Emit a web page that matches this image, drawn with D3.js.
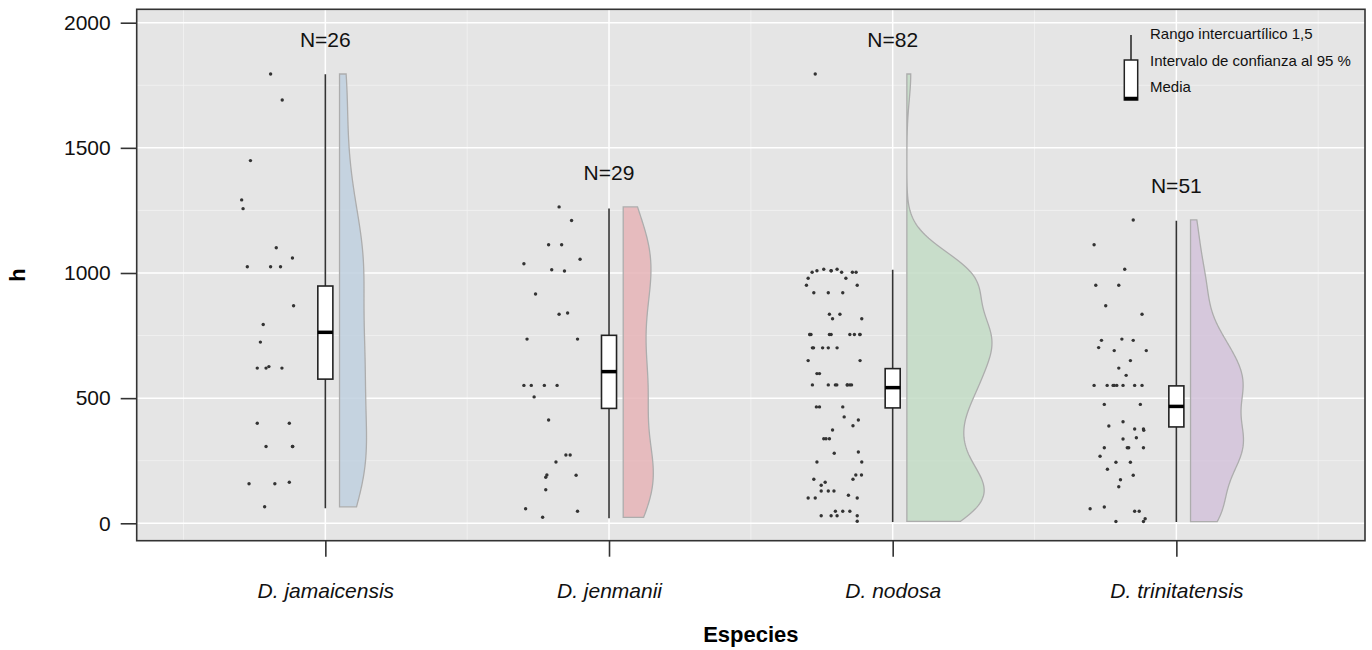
<!DOCTYPE html>
<html>
<head>
<meta charset="utf-8">
<script src="https://cdn.jsdelivr.net/npm/d3@7"></script>
<style>
  body { margin: 0; background: #fff; }
  text { font-family: Arial, "Liberation Sans", sans-serif; }
</style>
</head>
<body>
<script>
const W = 1372
const H = 650

// categories
const species = ['D. jamaicensis', 'D. jenmanii', 'D. nodosa', 'D. trinitatensis']
const nLabels = ['N=26', 'N=29', 'N=82', 'N=51']

const hJamaicensis = [1795, 1691, 1449, 1292, 1257, 1101, 1060, 1025, 1025, 1025, 869, 794, 724, 620, 620, 626, 620, 400, 400, 307, 307, 307, 158, 158, 164, 66]
const jitJamaicensis = [-0.193, -0.152, -0.264, -0.295, -0.290, -0.173, -0.116, -0.275, -0.193, -0.158, -0.112, -0.219, -0.229, -0.240, -0.209, -0.199, -0.153, -0.240, -0.127, -0.209, -0.116, -0.115, -0.269, -0.178, -0.127, -0.214]

const hJenmanii = [1264, 1210, 1113, 1113, 1055, 1037, 1013, 1008, 916, 835, 840, 736, 736, 551, 551, 551, 551, 505, 413, 273, 273, 245, 193, 184, 192, 134, 58, 48, 24]
const jitJenmanii = [-0.176, -0.132, -0.213, -0.167, -0.102, -0.300, -0.202, -0.157, -0.259, -0.176, -0.146, -0.289, -0.111, -0.300, -0.274, -0.228, -0.183, -0.264, -0.213, -0.152, -0.137, -0.187, -0.219, -0.223, -0.116, -0.223, -0.294, -0.111, -0.234]

const hNodosa = [1795, 1003, 1009, 1015, 1009, 1015, 1003, 1003, 1003, 979, 979, 951, 951, 921, 921, 921, 835, 835, 817, 817,
  754, 754, 754, 754, 754, 754, 754, 754, 701, 701, 701, 701, 701, 650, 650, 598, 598, 553, 553, 553, 553, 553, 553, 553,
  465, 465, 465, 425, 413, 390, 373, 338, 338, 338, 280, 285, 245, 245, 193, 193, 176, 176, 164, 152, 129, 129, 129,
  101, 101, 112, 101, 30, 30, 48, 48, 48, 30, 30, 8, 754, 553, 1009]
const jitNodosa = [-0.273, -0.284, -0.267, -0.243, -0.217, -0.196, -0.180, -0.142, -0.129, -0.298, -0.165, -0.304, -0.125, -0.278, -0.227, -0.176, -0.223, -0.186, -0.212, -0.109,
  -0.292, -0.288, -0.223, -0.217, -0.151, -0.135, -0.116, -0.115, -0.283, -0.279, -0.247, -0.227, -0.196, -0.298, -0.115, -0.267, -0.258, -0.283, -0.227, -0.202, -0.197, -0.160, -0.151, -0.145,
  -0.269, -0.258, -0.176, -0.171, -0.121, -0.140, -0.212, -0.243, -0.235, -0.223, -0.206, -0.121, -0.267, -0.109, -0.130, -0.110, -0.278, -0.140, -0.238, -0.252, -0.252, -0.227, -0.207,
  -0.298, -0.273, -0.156, -0.125, -0.252, -0.217, -0.202, -0.176, -0.151, -0.196, -0.125, -0.125, -0.292, -0.160, -0.217]

const hTrinitatensis = [1212, 1113, 1015, 951, 951, 869, 835, 731, 736, 731, 702, 690, 690, 650, 620, 591, 551, 551, 551, 551, 551, 551, 551,
  475, 475, 406, 389, 377, 377, 372, 337, 342, 302, 302, 302, 302, 268, 244, 244, 216, 192, 174, 146, 58, 65, 48, 48, 7, 7, 18, 551]
const jitTrinitatensis = [-0.152, -0.290, -0.182, -0.284, -0.203, -0.249, -0.121, -0.264, -0.192, -0.152, -0.274, -0.219, -0.106, -0.162, -0.203, -0.177, -0.290, -0.244, -0.223, -0.219, -0.188, -0.147, -0.121,
  -0.254, -0.127, -0.188, -0.238, -0.147, -0.116, -0.115, -0.188, -0.141, -0.254, -0.173, -0.168, -0.116, -0.269, -0.213, -0.162, -0.243, -0.152, -0.197, -0.203, -0.304, -0.254, -0.147, -0.131, -0.213, -0.116, -0.110, -0.210]

const heights = [hJamaicensis, hJenmanii, hNodosa, hTrinitatensis]
const jitters = [jitJamaicensis, jitJenmanii, jitNodosa, jitTrinitatensis]

// box: 95 % CI of the mean, mean line, whiskers (1.5 IQR)
const boxLow = [576, 459, 461, 385]
const boxMid = [763, 606, 542, 467]
const boxHigh = [948, 751, 618, 549]
const whiskLow = [60, 20, 5, 5]
const whiskHigh = [1794, 1258, 1013, 1209]

const violinFill = ['#bfd0df', '#e6b4b7', '#c3dcc6', '#d4c3da']

const yTicks = [0, 500, 1000, 1500, 2000]
const yMinor = [250, 750, 1250, 1750]
const legendLabels = ['Rango intercuartílico 1,5', 'Intervalo de confianza al 95 %', 'Media']

// panel
const panel = { left: 136.7, right: 1365, top: 9.3, bottom: 540.7 }

const x = d3.scalePoint()
  .domain(species)
  .range([panel.left, panel.right])
  .padding(0.665)
const step = x.step()

const y = d3.scaleLinear()
  .domain([0, 2000])
  .range([523.3, 22.7])

const svg = d3.select('body').append('svg')
  .attr('width', W)
  .attr('height', H)

svg.append('rect')
  .attr('x', panel.left).attr('y', panel.top)
  .attr('width', panel.right - panel.left).attr('height', panel.bottom - panel.top)
  .attr('fill', '#e5e5e5')

const grid = svg.append('g')
// minor grid
grid.selectAll('.hmin').data(yMinor).enter().append('line')
  .attr('x1', panel.left).attr('x2', panel.right)
  .attr('y1', d => y(d)).attr('y2', d => y(d))
  .attr('stroke', '#f3f3f3').attr('stroke-width', 0.8)
grid.selectAll('.vmin').data(species.concat(['end'])).enter().append('line')
  .attr('x1', (d, i) => x(species[0]) + (i - 0.5) * step)
  .attr('x2', (d, i) => x(species[0]) + (i - 0.5) * step)
  .attr('y1', panel.top).attr('y2', panel.bottom)
  .attr('stroke', '#f3f3f3').attr('stroke-width', 0.8)
// major grid
grid.selectAll('.hmaj').data(yTicks).enter().append('line')
  .attr('x1', panel.left).attr('x2', panel.right)
  .attr('y1', d => y(d)).attr('y2', d => y(d))
  .attr('stroke', '#fff').attr('stroke-width', 1.5)
grid.selectAll('.vmaj').data(species).enter().append('line')
  .attr('x1', d => x(d)).attr('x2', d => x(d))
  .attr('y1', panel.top).attr('y2', panel.bottom)
  .attr('stroke', '#fff').attr('stroke-width', 1.5)

// kernel density (gaussian, bw.nrd0 * adjust), trimmed to data range
const bwAdjust = 0.8
function bwNrd0 (v) {
  const s = v.slice().sort(d3.ascending)
  const sd = d3.deviation(s)
  const iqr = d3.quantile(s, 0.75) - d3.quantile(s, 0.25)
  return 0.9 * Math.min(sd, iqr / 1.34) * Math.pow(s.length, -0.2)
}
function kde (v) {
  const bw = bwNrd0(v) * bwAdjust
  const lo = d3.min(v)
  const hi = d3.max(v)
  const pts = d3.range(0, 257).map(i => lo + (hi - lo) * i / 256)
  return pts.map(t => [t, d3.sum(v, d => Math.exp(-0.5 * ((t - d) / bw) ** 2)) / (v.length * bw * Math.sqrt(2 * Math.PI))])
}

const maxN = d3.max(heights, d => d.length)
const violinGap = 0.05
const violinWidth = 0.3

species.forEach((sp, i) => {
  const cx = x(sp)
  const v = heights[i]
  const dens = kde(v)
  const dMax = d3.max(dens, d => d[1])
  const x0 = cx + violinGap * step
  const area = d3.area()
    .x0(x0)
    .x1(d => x0 + d[1] / dMax * v.length / maxN * violinWidth * step)
    .y(d => y(d[0]))

  svg.append('path')
    .datum(dens)
    .attr('d', area)
    .attr('fill', violinFill[i])
    .attr('fill-opacity', 0.85)
    .attr('stroke', '#adadad')
    .attr('stroke-width', 1.3)

  // jittered dots
  svg.append('g').selectAll('circle')
    .data(v)
    .enter().append('circle')
    .attr('cx', (d, j) => cx + jitters[i][j] * step)
    .attr('cy', d => y(d))
    .attr('r', 1.7)
    .attr('fill', '#333')

  // whisker
  svg.append('line')
    .attr('x1', cx).attr('x2', cx)
    .attr('y1', y(whiskLow[i])).attr('y2', y(whiskHigh[i]))
    .attr('stroke', '#333').attr('stroke-width', 1.6)

  const bw = 0.053 * step
  svg.append('rect')
    .attr('x', cx - bw / 2).attr('width', bw)
    .attr('y', y(boxHigh[i])).attr('height', y(boxLow[i]) - y(boxHigh[i]))
    .attr('fill', '#fff').attr('stroke', '#222').attr('stroke-width', 1.6)

  svg.append('line')
    .attr('x1', cx - bw / 2).attr('x2', cx + bw / 2)
    .attr('y1', y(boxMid[i])).attr('y2', y(boxMid[i]))
    .attr('stroke', '#000').attr('stroke-width', 3.5)

  svg.append('text')
    .attr('x', cx)
    .attr('y', y(d3.max(v) + 130))
    .attr('text-anchor', 'middle')
    .attr('dominant-baseline', 'middle')
    .attr('font-size', 21)
    .attr('fill', '#111')
    .text(nLabels[i])
})

// panel border
svg.append('rect')
  .attr('x', panel.left).attr('y', panel.top)
  .attr('width', panel.right - panel.left).attr('height', panel.bottom - panel.top)
  .attr('fill', 'none')
  .attr('stroke', '#333').attr('stroke-width', 1.6)

// axes
const yAxis = svg.append('g')
  .attr('transform', `translate(${panel.left},0)`)
  .call(d3.axisLeft(y).tickValues(yTicks).tickSize(16).tickPadding(10).tickFormat(d3.format('d')))
yAxis.select('.domain').remove()
yAxis.selectAll('line').attr('stroke', '#333').attr('stroke-width', 1.6)
yAxis.selectAll('text').attr('font-size', 21).attr('fill', '#111').attr('font-family', 'Arial, "Liberation Sans", sans-serif')

const xAxis = svg.append('g')
  .attr('transform', `translate(0,${panel.bottom})`)
  .call(d3.axisBottom(x).tickSize(16).tickPadding(26))
xAxis.select('.domain').remove()
xAxis.selectAll('line').attr('stroke', '#333').attr('stroke-width', 1.6)
xAxis.selectAll('text').attr('font-size', 21).attr('fill', '#111').attr('font-style', 'italic')
  .attr('font-family', 'Arial, "Liberation Sans", sans-serif')

svg.append('text')
  .attr('x', (panel.left + panel.right) / 2)
  .attr('y', 636)
  .attr('text-anchor', 'middle')
  .attr('dominant-baseline', 'middle')
  .attr('font-size', 22)
  .attr('font-weight', 'bold')
  .text('Especies')

svg.append('text')
  .attr('transform', `translate(19,${(panel.top + panel.bottom) / 2}) rotate(-90)`)
  .attr('text-anchor', 'middle')
  .attr('dominant-baseline', 'middle')
  .attr('font-size', 22)
  .attr('font-weight', 'bold')
  .text('h')

// legend
const lg = svg.append('g')
lg.append('line')
  .attr('x1', 1131).attr('x2', 1131).attr('y1', 35).attr('y2', 60)
  .attr('stroke', '#222').attr('stroke-width', 1.5)
lg.append('rect')
  .attr('x', 1124.3).attr('y', 60).attr('width', 13.4).attr('height', 40)
  .attr('fill', '#fff').attr('stroke', '#222').attr('stroke-width', 1.5)
lg.append('line')
  .attr('x1', 1124.3).attr('x2', 1137.7).attr('y1', 98.5).attr('y2', 98.5)
  .attr('stroke', '#000').attr('stroke-width', 3.5)
lg.selectAll('text')
  .data(legendLabels)
  .enter().append('text')
  .attr('x', 1150)
  .attr('y', (d, i) => 35 + i * 26.7)
  .attr('dominant-baseline', 'middle')
  .attr('font-size', 15)
  .attr('fill', '#111')
  .text(d => d)
</script>
</body>
</html>
